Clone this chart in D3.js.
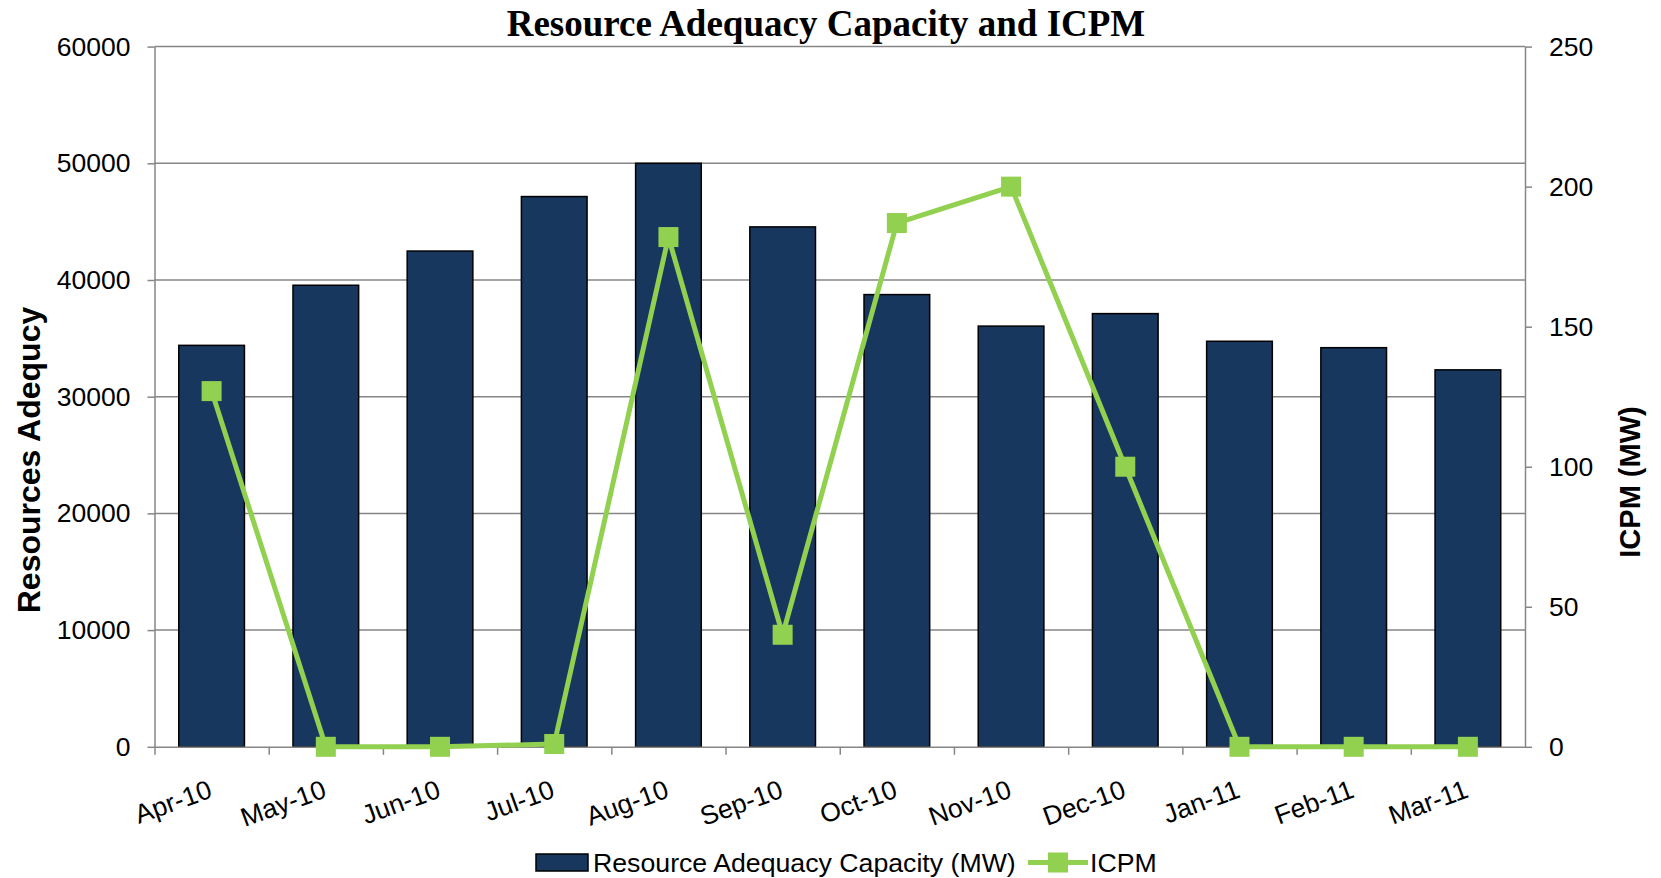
<!DOCTYPE html>
<html>
<head>
<meta charset="utf-8">
<script src="https://cdn.jsdelivr.net/npm/d3@7"></script>
<style>
  body { margin: 0; background: #fff; }
  .axis text { font-family: "Liberation Sans", Arial, sans-serif; font-size: 26.5px; fill: #000; }
  .axis path, .axis line { stroke: #868686; stroke-width: 1.5px; }
</style>
</head>
<body>
<script>
// chart data
var months = ["Apr-10", "May-10", "Jun-10", "Jul-10", "Aug-10", "Sep-10",
              "Oct-10", "Nov-10", "Dec-10", "Jan-11", "Feb-11", "Mar-11"];
var capacity = [34400, 39550, 42480, 47150, 50000, 44550,
                38750, 36050, 37120, 34750, 34200, 32300];
var icpm = [127, 0, 0, 1, 182, 40, 187, 200, 100, 0, 0, 0];
var leftTicks = [0, 10000, 20000, 30000, 40000, 50000, 60000];
var rightTicks = [0, 50, 100, 150, 200, 250];

var width = 1661, height = 878;
var plot = {left: 154.5, right: 1525, top: 46.6, bottom: 746.8};

var svg = d3.select("body").append("svg")
    .attr("width", width)
    .attr("height", height);

// scales
var x = d3.scaleBand()
    .domain(months)
    .range([plot.left, plot.right])
    .paddingInner(0.425)
    .paddingOuter(0.2125);

var xEdge = d3.scaleLinear().domain([0, months.length]).range([plot.left, plot.right]);

var y = d3.scaleLinear().domain([0, 60000]).range([plot.bottom, plot.top]);
var y2 = d3.scaleLinear().domain([0, 250]).range([plot.bottom, plot.top]);

// gridlines
svg.append("g")
  .selectAll("line")
  .data(leftTicks.slice(1))
  .enter().append("line")
    .attr("x1", plot.left)
    .attr("x2", plot.right)
    .attr("y1", function(d) { return y(d); })
    .attr("y2", function(d) { return y(d); })
    .attr("stroke", "#868686")
    .attr("stroke-width", 1.5);

// bars
svg.append("g")
  .selectAll("rect")
  .data(capacity)
  .enter().append("rect")
    .attr("x", function(d, i) { return x(months[i]); })
    .attr("y", function(d) { return y(d); })
    .attr("width", x.bandwidth())
    .attr("height", function(d) { return y(0) - y(d); })
    .attr("fill", "#17375E")
    .attr("stroke", "#000")
    .attr("stroke-width", 1.5);

// left axis
svg.append("g")
    .attr("class", "axis")
    .attr("transform", "translate(" + plot.left + ",0)")
    .call(d3.axisLeft(y).tickValues(leftTicks).tickFormat(d3.format("d")).tickSize(7).tickPadding(17).tickSizeOuter(0));

// right axis
svg.append("g")
    .attr("class", "axis")
    .attr("transform", "translate(" + plot.right + ",0)")
    .call(d3.axisRight(y2).tickValues(rightTicks).tickSize(7).tickPadding(17).tickSizeOuter(0));

// x axis: tick marks on category edges
svg.append("g")
    .attr("class", "axis")
    .attr("transform", "translate(0," + plot.bottom + ")")
    .call(d3.axisBottom(xEdge).tickValues(d3.range(0, months.length)).tickFormat("").tickSize(8).tickSizeOuter(0));

// x labels, rotated
svg.append("g")
    .attr("class", "axis")
  .selectAll("text")
  .data(months)
  .enter().append("text")
    .attr("transform", function(d) { return "translate(" + (x(d) + x.bandwidth() / 2 + 2) + "," + (plot.bottom + 50) + ") rotate(-20)"; })
    .attr("text-anchor", "end")
    .text(function(d) { return d; });

// ICPM line
var line = d3.line()
    .x(function(d, i) { return x(months[i]) + x.bandwidth() / 2; })
    .y(function(d) { return y2(d); });

svg.append("path")
    .datum(icpm)
    .attr("d", line)
    .attr("fill", "none")
    .attr("stroke", "#92D050")
    .attr("stroke-width", 5)
    .attr("stroke-linejoin", "round");

svg.append("g")
  .selectAll("rect")
  .data(icpm)
  .enter().append("rect")
    .attr("x", function(d, i) { return x(months[i]) + x.bandwidth() / 2 - 10; })
    .attr("y", function(d) { return y2(d) - 10; })
    .attr("width", 20)
    .attr("height", 20)
    .attr("fill", "#92D050");

// title
svg.append("text")
    .attr("x", 826)
    .attr("y", 36)
    .attr("text-anchor", "middle")
    .attr("font-family", "Liberation Serif, Times New Roman, serif")
    .attr("font-weight", "bold")
    .attr("font-size", 37)
    .text("Resource Adequacy Capacity and ICPM");

// axis titles
svg.append("text")
    .attr("transform", "translate(40,460) rotate(-90)")
    .attr("text-anchor", "middle")
    .attr("font-family", "Liberation Sans, Arial, sans-serif")
    .attr("font-weight", "bold")
    .attr("font-size", 32)
    .text("Resources Adequcy");

svg.append("text")
    .attr("transform", "translate(1640,482) rotate(-90)")
    .attr("text-anchor", "middle")
    .attr("font-family", "Liberation Sans, Arial, sans-serif")
    .attr("font-weight", "bold")
    .attr("font-size", 29)
    .text("ICPM (MW)");

// legend
var legend = svg.append("g")
    .attr("font-family", "Liberation Sans, Arial, sans-serif")
    .attr("font-size", 26.7);

legend.append("rect")
    .attr("x", 536).attr("y", 854)
    .attr("width", 52).attr("height", 17)
    .attr("fill", "#17375E")
    .attr("stroke", "#000")
    .attr("stroke-width", 1.5);

legend.append("text")
    .attr("x", 593).attr("y", 872)
    .text("Resource Adequacy Capacity (MW)");

legend.append("line")
    .attr("x1", 1028).attr("x2", 1088)
    .attr("y1", 862.5).attr("y2", 862.5)
    .attr("stroke", "#92D050")
    .attr("stroke-width", 5);

legend.append("rect")
    .attr("x", 1048).attr("y", 852.5)
    .attr("width", 20).attr("height", 20)
    .attr("fill", "#92D050");

legend.append("text")
    .attr("x", 1090).attr("y", 872)
    .text("ICPM");
</script>
</body>
</html>
